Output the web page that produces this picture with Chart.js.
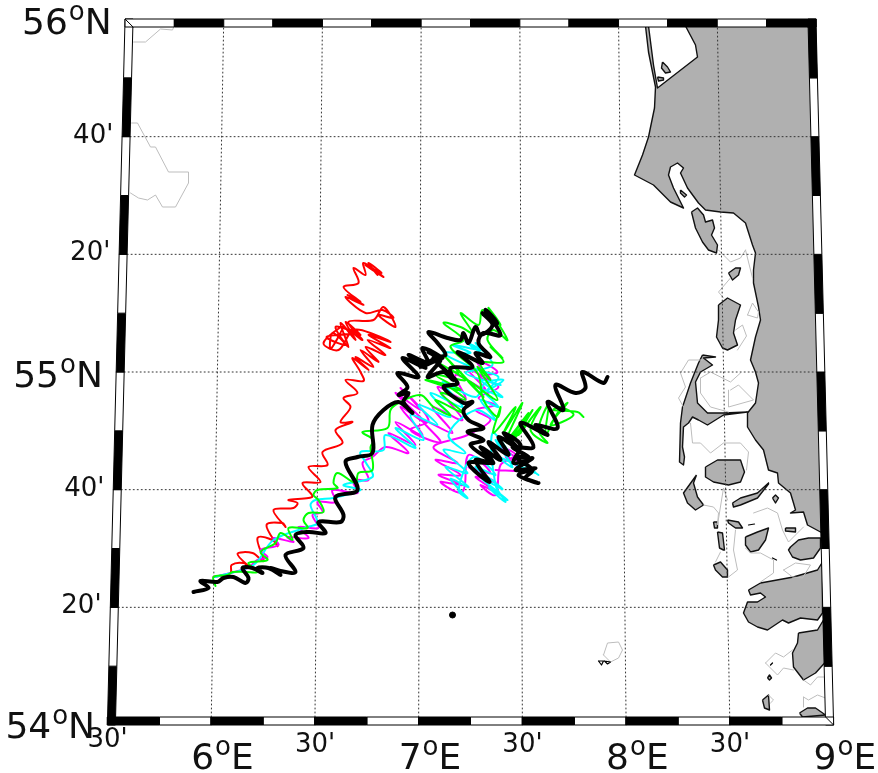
<!DOCTYPE html>
<html>
<head>
<meta charset="utf-8">
<style>
  html, body { margin: 0; padding: 0; background: #fff; }
  #wrap { width: 878px; height: 773px; }
</style>
<script src="https://cdn.jsdelivr.net/npm/chart.js@4"></script>
</head>
<body>
<div id="wrap"><canvas id="map"></canvas></div>
<script>
// Map grid: sinusoidal projection about 7.25E, units of 1/353 degree of latitude, false origin at 54N.

// graticule
const gridLons = [6, 6.5, 7, 7.5, 8, 8.5];
const gridLats = [54 + 20 / 60, 54 + 40 / 60, 55, 55 + 20 / 60, 55 + 40 / 60];
const lonLabels = ["30'", "6", "30'", "7", "30'", "8", "30'", "9"];
const lonLabelValues = [5.5, 6, 6.5, 7, 7.5, 8, 8.5, 9];
const latLabels = ["54", "20'", "40'", "55", "20'", "40'", "56"];

// land, [easting, northing]
const mainland = [[178, 699], [183, 660], [187, 637], [227, 668], [225, 680], [215, 699], [345, 699], [356, 193], [350, 193], [337, 200], [333, 213], [320, 212], [325, 215], [323, 222], [320, 232], [308, 242], [307, 252], [298, 255], [293, 275], [285, 285], [277, 298], [277, 312], [285, 322], [288, 342], [285, 353], [280, 365], [285, 388], [290, 405], [288, 418], [283, 442], [283, 455], [285, 472], [282, 480], [275, 502], [263, 512], [250, 513], [235, 515], [228, 522], [217, 537], [210, 552], [213, 557], [207, 562], [200, 558], [198, 550], [203, 537], [213, 517], [200, 523], [183, 540], [164, 550], [172, 570], [178, 588], [184, 617], [185, 638], [178, 673], [175, 699]];
const romo = [[221, 513], [227, 517], [233, 510], [235, 503], [242, 505], [244, 497], [241, 490], [247, 480], [246, 472], [238, 475], [232, 483], [225, 497]];
const skallingA = [[192, 663], [197, 658], [200, 653], [195, 652], [191, 657]];
const skallingB = [[187, 648], [193, 647], [193, 645], [188, 644]];
const skallingC = [[210, 535], [216, 530], [214, 528], [210, 532]];
const mando = [[258, 452], [265, 457], [270, 457], [268, 450], [262, 445]];
const fano = [[248, 420], [257, 427], [270, 420], [265, 405], [263, 392], [267, 380], [257, 375], [252, 377], [246, 388], [248, 405]];
const sylt = [[232, 370], [245, 368], [233, 367], [242, 360], [230, 353], [225, 343], [227, 322], [237, 312], [253, 312], [277, 313], [253, 310], [237, 300], [228, 305], [222, 308], [218, 302], [213, 298], [212, 278], [214, 268], [213, 260], [209, 263], [210, 302], [212, 318], [220, 342], [228, 362]];
const foehr = [[235, 258], [247, 265], [270, 265], [274, 253], [270, 243], [258, 240], [243, 243], [235, 248]];
const amrum = [[226, 250], [213, 232], [217, 222], [225, 215], [233, 220], [227, 228], [223, 242]];
const pellworm = [[262, 222], [270, 227], [287, 232], [298, 242], [298, 241], [287, 227], [270, 220], [263, 218]];
const halligA = [[257, 205], [268, 203], [272, 197], [265, 197], [258, 202]];
const halligB = [[243, 203], [247, 203], [247, 197], [244, 197]];
const halligC = [[247, 193], [252, 192], [254, 175], [253, 175], [249, 177]];
const halligD = [[243, 160], [250, 163], [257, 155], [257, 148], [252, 148], [245, 155]];
const halligE = [[275, 188], [287, 193], [298, 197], [295, 185], [288, 175], [280, 173], [275, 180]];
const halligF = [[315, 197], [325, 197], [325, 193], [315, 194]];
const halligG = [[302, 227], [305, 230], [308, 227], [305, 222]];
const eiderstedt = [[320, 178], [328, 185], [338, 187], [350, 187], [350, 177], [343, 167], [330, 165], [322, 168], [318, 175]];
const dithmarschen = [[278, 135], [290, 142], [323, 148], [347, 155], [352, 163], [352, 112], [347, 105], [330, 107], [318, 102], [312, 105], [297, 95], [287, 98], [278, 103], [273, 112], [277, 123], [287, 123], [295, 128], [290, 132], [280, 130]];
const buesum = [[328, 92], [347, 95], [353, 105], [355, 63], [345, 52], [333, 45], [323, 58], [322, 72], [327, 82]];
const elbeMouth = [[329, 12], [337, 17], [345, 17], [355, 10], [332, 8]];
const neuwerk = [[292, 25], [298, 30], [299, 15], [294, 17]];
const smallHallig = [[297, 47], [299, 50], [301, 47], [299, 45]];

// tidal flats outline, light grey
const flats = [
  [[-337, 683], [-325, 683], [-310, 696], [-298, 695], [-296, 700]],
  [[-339, 602], [-333, 602], [-320, 578], [-315, 578], [-302, 553], [-282, 553], [-282, 542], [-295, 518], [-308, 518], [-315, 530], [-323, 525], [-332, 527], [-340, 532]],
  [[248, 475], [260, 463], [270, 467], [275, 475]],
  [[275, 475], [282, 447]],
  [[260, 447], [248, 433], [253, 427]],
  [[277, 410], [282, 422], [288, 413], [287, 407], [277, 410]],
  [[265, 395], [272, 400], [276, 389], [267, 375]],
  [[232, 365], [218, 365], [210, 352], [215, 338], [208, 327], [213, 318]],
  [[230, 347], [240, 353], [260, 343], [270, 352]],
  [[230, 347], [230, 332], [240, 318], [258, 313]],
  [[260, 335], [268, 340], [283, 325], [258, 318], [258, 335]],
  [[220, 302], [222, 282], [230, 282], [240, 272], [253, 282], [270, 282], [278, 273], [276, 255]],
  [[233, 220], [243, 218], [248, 212], [247, 200], [253, 237], [257, 225]],
  [[265, 195], [263, 175], [267, 155], [258, 148]],
  [[250, 173], [245, 163]],
  [[283, 212], [297, 217], [307, 212], [312, 195], [318, 183], [333, 198]],
  [[275, 177], [280, 172], [290, 172], [303, 165], [303, 152], [290, 143]],
  [[313, 155], [325, 162], [340, 160], [332, 147], [322, 148], [313, 155]],
  [[295, 62], [305, 72], [313, 68], [322, 75]],
  [[295, 62], [307, 50], [313, 57], [323, 55]],
  [[333, 45], [340, 40], [347, 48], [355, 48]],
  [[333, 28], [333, 18]],
  [[333, 28], [338, 25], [347, 30], [355, 27]],
  [[298, 30], [303, 25], [300, 22]],
  [[133, 70], [137, 82], [148, 83], [152, 75], [148, 67], [140, 63], [133, 70]]
];
const blackMarks = [
  [[128, 64], [131, 60], [133, 64], [128, 64]],
  [[134, 64], [137, 61], [140, 63], [134, 64]],
  [[300, 60], [302, 62]],
  [[278, 200], [284, 201]],
  [[302, 167], [306, 165]]
];

// station marker
const stationPoint = [[-18, 110]];

// drift tracks, [easting, northing]
const redTrack = [[-257, 148], [-240, 152], [-239, 160], [-227, 162], [-220, 157], [-233, 171], [-218, 172], [-207, 164], [-213, 187], [-198, 185], [-193, 179], [-204, 200], [-188, 202], [-185, 198], [-197, 215], [-177, 217], [-173, 222], [-182, 225], [-162, 227], [-158, 229], [-168, 242], [-150, 243], [-162, 258], [-143, 260], [-148, 273], [-128, 282], [-135, 295], [-118, 303], [-130, 303], [-120, 318], [-127, 327], [-113, 332], [-125, 345], [-107, 344], [-110, 353], [-118, 367], [-102, 355], [-115, 368], [-97, 358], [-110, 375], [-92, 363], [-105, 378], [-85, 370], [-103, 385], [-80, 377], [-102, 390], [-80, 383], [-95, 390], [-117, 395], [-132, 375], [-147, 382], [-128, 398], [-140, 376], [-138, 392], [-125, 380], [-144, 388], [-118, 392], [-135, 398], [-122, 378], [-130, 402], [-115, 385], [-125, 403], [-110, 390], [-122, 396], [-108, 385], [-122, 403], [-97, 405], [-87, 418], [-75, 398], [-92, 410], [-77, 407], [-88, 415], [-105, 412], [-125, 428], [-107, 420], [-123, 430], [-110, 423], [-127, 438], [-112, 442], [-117, 457], [-105, 450], [-107, 462], [-87, 448], [-105, 460], [-89, 452], [-102, 462], [-93, 450]];
const magentaTrack = [[-257, 148], [-240, 152], [-223, 157], [-213, 165], [-203, 168], [-210, 175], [-192, 180], [-197, 187], [-177, 183], [-183, 188], [-162, 187], [-172, 198], [-152, 197], [-158, 210], [-148, 213], [-153, 223], [-135, 223], [-138, 235], [-113, 232], [-118, 245], [-102, 245], [-108, 262], [-98, 268], [-85, 278], [-62, 272], [-82, 292], [-55, 280], [-75, 303], [-48, 290], [-70, 318], [-45, 302], [-75, 332], [-50, 315], [-70, 337], [-42, 305], [-60, 295], [-30, 283], [-48, 305], [-18, 292], [-38, 318], [-8, 305], [-33, 338], [-5, 325], [-15, 350], [15, 335], [-5, 358], [20, 345], [5, 365], [27, 353], [10, 348], [28, 338], [8, 327], [25, 320], [5, 315], [20, 305], [-3, 290], [-37, 278], [-13, 262], [-35, 265], [-10, 250], [-32, 250], [-8, 240], [-30, 243], [-8, 233], [-2, 270], [20, 252], [-2, 258], [25, 243], [5, 248], [28, 232], [10, 240], [25, 230], [30, 260], [45, 270], [30, 278], [53, 262], [35, 268], [50, 255], [25, 255]];
const cyanTrack = [[-255, 148], [-217, 160], [-197, 185], [-163, 198], [-153, 202], [-160, 220], [-155, 225], [-137, 227], [-110, 235], [-127, 240], [-98, 248], [-105, 263], [-110, 273], [-87, 275], [-85, 290], [-55, 277], [-75, 297], [-47, 285], [-60, 310], [-33, 300], [-52, 320], [-20, 308], [-40, 332], [-8, 318], [-28, 343], [5, 328], [15, 342], [33, 345], [17, 335], [28, 348], [8, 355], [-27, 372], [0, 372], [-18, 380], [10, 375], [-5, 383], [18, 368], [5, 382], [22, 360], [-5, 352], [30, 340], [10, 345], [32, 328], [12, 335], [28, 318], [10, 325], [25, 305], [5, 315], [-22, 290], [-5, 272], [-27, 275], [-3, 252], [-25, 258], [-2, 238], [-20, 246], [-3, 227], [-12, 235], [3, 268], [25, 250], [5, 258], [32, 236], [12, 246], [37, 225], [18, 238], [35, 223], [25, 240], [22, 292], [40, 270], [25, 285], [42, 258], [28, 268], [65, 252], [47, 265], [68, 250]];
const greenTrack = [[-255, 139], [-257, 148], [-243, 150], [-238, 153], [-225, 153], [-213, 153], [-222, 162], [-203, 165], [-210, 173], [-195, 182], [-190, 192], [-178, 185], [-182, 197], [-163, 197], [-167, 205], [-162, 212], [-147, 213], [-152, 225], [-157, 230], [-153, 235], [-133, 237], [-137, 242], [-133, 252], [-115, 242], [-112, 252], [-98, 255], [-100, 278], [-97, 285], [-108, 293], [-83, 297], [-80, 315], [-72, 322], [-50, 330], [-37, 318], [-20, 310], [-35, 325], [-7, 312], [-30, 332], [-5, 325], [-25, 340], [-45, 345], [-10, 335], [-35, 350], [-5, 345], [-37, 365], [-12, 352], [-25, 368], [-3, 345], [-15, 358], [13, 328], [-3, 345], [27, 325], [7, 358], [20, 345], [10, 362], [33, 363], [20, 378], [32, 367], [17, 385], [23, 395], [37, 385], [18, 417], [30, 400], [12, 415], [8, 400], [-10, 412], [2, 392], [-10, 398], [-27, 402], [-7, 385], [-20, 378], [7, 352], [13, 325], [27, 308], [30, 318], [23, 292], [45, 318], [33, 292], [52, 322], [36, 285], [58, 312], [37, 282], [55, 302], [43, 285], [62, 315], [48, 290], [70, 318], [60, 295], [77, 282], [68, 295], [78, 320], [75, 290], [87, 312], [97, 322], [80, 300], [103, 310], [90, 318], [83, 315], [107, 313], [113, 308]];
const blackTrack = [[-277, 133], [-262, 137], [-270, 144], [-253, 143], [-247, 147], [-237, 148], [-225, 142], [-222, 147], [-228, 157], [-218, 157], [-208, 152], [-213, 157], [-202, 157], [-190, 150], [-200, 157], [-190, 154], [-175, 153], [-185, 170], [-167, 177], [-175, 190], [-162, 193], [-145, 192], [-152, 203], [-130, 203], [-127, 210], [-135, 228], [-113, 235], [-125, 263], [-113, 268], [-98, 272], [-98, 300], [-87, 315], [-72, 323], [-58, 312], [-67, 323], [-62, 332], [-72, 330], [-63, 338], [-73, 352], [-52, 348], [-68, 367], [-45, 357], [-62, 370], [-43, 363], [-48, 377], [-28, 367], [-42, 373], [-35, 368], [-50, 358], [-30, 365], [-43, 348], [-27, 353], [-17, 345], [-20, 357], [2, 358], [-13, 373], [12, 362], [5, 372], [20, 368], [8, 382], [13, 392], [30, 390], [15, 415], [27, 402], [12, 412], [22, 400], [10, 390], [5, 398], [-2, 382], [-7, 392], [-10, 385], [-23, 387], [-42, 393], [-33, 382], [-25, 370], [-37, 367], [-13, 342], [-27, 338], [-7, 322], [2, 323], [-7, 315], [-2, 305], [13, 297], [-3, 293], [13, 285], [0, 280], [20, 263], [-2, 262], [19, 243], [5, 265], [23, 262], [10, 278], [30, 265], [18, 283], [38, 270], [28, 288], [47, 277], [33, 292], [50, 280], [43, 262], [62, 267], [45, 255], [65, 257], [48, 250], [68, 242], [55, 247], [62, 255], [45, 268], [58, 268], [42, 278], [63, 278], [50, 302], [77, 290], [65, 300], [87, 297], [77, 323], [93, 315], [85, 340], [105, 332], [115, 337], [112, 353], [133, 342], [137, 348]];

const GRID_PER_DEG = 353;
const BAND = 8;

function toGrid(lon, lat) {
  const e = (lon - 7.25) * Math.cos(lat * Math.PI / 180) * GRID_PER_DEG;
  return { x: e, y: (lat - 54) * GRID_PER_DEG };
}

function pts(list) {
  return list.map(p => ({ x: p[0], y: p[1] }));
}

function polygon(list, fillColor, lineColor, lineWidth) {
  return {
    data: pts(list.concat([list[0]])),
    showLine: true,
    fill: 'shape',
    backgroundColor: fillColor,
    borderColor: lineColor,
    borderWidth: lineWidth,
    pointRadius: 0,
    borderJoinStyle: 'round'
  };
}

function polyline(list, color, width, tension) {
  return {
    data: pts(list),
    showLine: true,
    fill: false,
    borderColor: color,
    borderWidth: width,
    pointRadius: 0,
    tension: tension || 0,
    borderJoinStyle: 'round',
    borderCapStyle: 'round'
  };
}

// datasets go bottom layer first here, reversed before the chart is made
const layers = [];

const LAND = '#b0b0b0';
const landList = [mainland, romo, skallingA, skallingB, skallingC, mando, fano, sylt, foehr, amrum, pellworm,
  halligA, halligB, halligC, halligD, halligE, halligF, halligG, eiderstedt, dithmarschen, buesum, elbeMouth, neuwerk, smallHallig];
landList.forEach(p => layers.push(polygon(p, LAND, '#111', 1.4)));
flats.forEach(l => layers.push(polyline(l, '#bdbdbd', 1)));
blackMarks.forEach(l => layers.push(polyline(l, '#000', 1.2)));

gridLons.forEach(lon => {
  const line = [];
  for (let lat = 54; lat <= 56.001; lat += 0.25) { const g = toGrid(lon, lat); line.push([g.x, g.y]); }
  const ds = polyline(line, '#333', 1);
  ds.borderDash = [1, 3];
  layers.push(ds);
});
gridLats.forEach(lat => {
  const a = toGrid(5.5, lat), b = toGrid(9, lat);
  const ds = polyline([[a.x, a.y], [b.x, b.y]], '#333', 1);
  ds.borderDash = [1, 3];
  layers.push(ds);
});

layers.push(polyline(redTrack, '#ff0000', 2, 0.35));
layers.push(polyline(magentaTrack, '#ff00ff', 2, 0.35));
layers.push(polyline(cyanTrack, '#00ffff', 2, 0.35));
layers.push(polyline(greenTrack, '#00ff00', 2, 0.35));
layers.push(polyline(blackTrack, '#000000', 4, 0.35));

layers.push({ data: pts(stationPoint), pointRadius: 3, backgroundColor: '#000', borderColor: '#000' });

// frame: checker bands, 10' on the sides and 15' along top and bottom
for (let i = 0; i < 12; i++) {
  const lo = 54 + i / 6, hi = 54 + (i + 1) / 6;
  [[5.5, 1, 0], [9, -1, 1]].forEach(side => {
    const a = toGrid(side[0], lo), b = toGrid(side[0], hi);
    const black = (i + side[2]) % 2 === 0;
    layers.push(polygon([[a.x, a.y], [b.x, b.y], [b.x + side[1] * BAND, b.y], [a.x + side[1] * BAND, a.y]],
      black ? '#000' : '#fff', '#000', 1));
  });
}
for (let i = 0; i < 14; i++) {
  const lo = 5.5 + i / 4, hi = 5.5 + (i + 1) / 4;
  [[54, 1, 0], [56, -1, 1]].forEach(side => {
    const a = toGrid(lo, side[0]), b = toGrid(hi, side[0]);
    const black = (i + side[2]) % 2 === 0;
    layers.push(polygon([[a.x, a.y], [b.x, b.y], [b.x, b.y + side[1] * BAND], [a.x, a.y + side[1] * BAND]],
      black ? '#000' : '#fff', '#000', 1));
  });
}
// mitred corners of the frame
[[5.5, 56, 1, -1], [9, 56, -1, -1], [9, 54, -1, 1]].forEach(c => {
  const g = toGrid(c[0], c[1]);
  layers.push(polyline([[g.x, g.y], [g.x + c[2] * BAND, g.y + c[3] * BAND]], '#000', 1));
});

const FONT = '"DejaVu Sans"';

function degreeLabel(ctx, value, suffix, left, baseline) {
  ctx.font = '36px ' + FONT;
  ctx.fillText(value, left, baseline);
  let x = left + ctx.measureText(value).width;
  ctx.font = '26px ' + FONT;
  ctx.fillText('o', x + 1, baseline - 14);
  x += ctx.measureText('o').width + 1;
  ctx.font = '36px ' + FONT;
  ctx.fillText(suffix, x, baseline);
}

function minuteLabel(ctx, text, left, baseline) {
  ctx.font = '26px ' + FONT;
  ctx.fillText(text, left, baseline);
}

const labelPlugin = {
  id: 'mapLabels',
  afterDraw(chart) {
    const ctx = chart.ctx;
    const sx = chart.scales.x, sy = chart.scales.y;
    ctx.save();
    ctx.fillStyle = '#111';
    ctx.textBaseline = 'alphabetic';
    // latitude side
    latLabels.forEach((t, i) => {
      const lat = 54 + i / 3;
      const g = toGrid(5.5, lat);
      const px = sx.getPixelForValue(g.x), py = sy.getPixelForValue(g.y);
      if (t.endsWith("'")) {
        minuteLabel(ctx, t, px - 49, py + 6);
      } else if (i === 0) {
        degreeLabel(ctx, t, 'N', px - 102, py + 13);
      } else {
        degreeLabel(ctx, t, 'N', px - 103, py + 15);
      }
    });
    // longitude side
    lonLabels.forEach((t, i) => {
      const g = toGrid(lonLabelValues[i], 54);
      const px = sx.getPixelForValue(g.x), py = sy.getPixelForValue(g.y);
      if (t.endsWith("'")) {
        minuteLabel(ctx, t, px - 20, py + (i === 0 ? 22 : 27));
      } else {
        degreeLabel(ctx, t, 'E', px - 20, py + 44);
      }
    });
    ctx.restore();
  }
};

new Chart(document.getElementById('map'), {
  type: 'scatter',
  data: { datasets: layers.reverse() },
  options: {
    responsive: true,
    maintainAspectRatio: false,
    animation: false,
    layout: { padding: 0, autoPadding: false },
    plugins: { legend: { display: false }, tooltip: { enabled: false } },
    scales: {
      x: { type: 'linear', min: -470.5, max: 407.5, display: false },
      y: { type: 'linear', min: -48, max: 725, display: false }
    }
  },
  plugins: [labelPlugin]
});
</script>
</body>
</html>
